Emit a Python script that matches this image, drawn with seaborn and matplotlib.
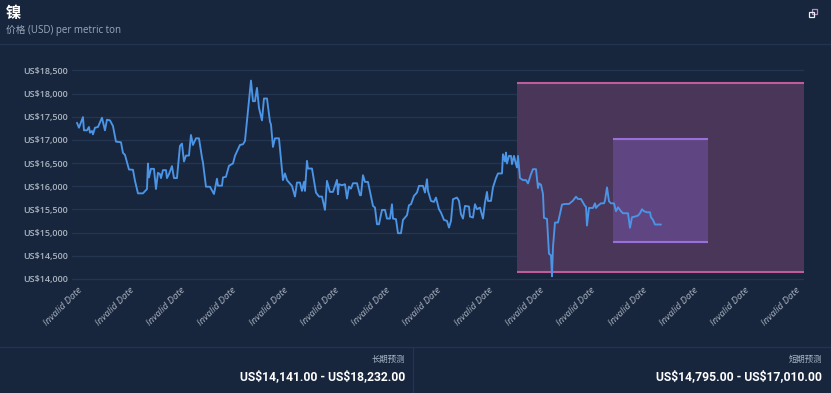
import numpy as np
import pandas as pd
import matplotlib.pyplot as plt
import matplotlib.patches as mpatches
import seaborn as sns

# colours
BG = '#18263d'
GRID = '#233551'
LINE = '#4b94e6'

sns.set_style("dark", rc={'axes.facecolor': BG, 'figure.facecolor': BG})
plt.rcParams['font.family'] = ['Open Sans', 'Noto Sans CJK SC', 'DejaVu Sans']

# price series (x = day offset, y = USD per metric ton)
days = [0, 2, 6, 7, 10, 12, 13, 15, 16, 18,
        21, 25, 28, 30, 33, 36, 39, 44, 46, 48,
        52, 56, 58, 61, 66, 70, 71, 72, 74, 77,
        79, 81, 83, 84, 86, 89, 90, 92, 95, 97,
        100, 103, 105, 107, 109, 112, 114, 116, 119, 122,
        125, 126, 129, 133, 137, 140, 141, 145, 146, 149,
        152, 156, 158, 163, 166, 168, 170, 174, 176, 178,
        180, 182, 185, 187, 190, 193, 194, 196, 198, 202,
        206, 208, 210, 215, 218, 220, 223, 225, 227, 228,
        230, 231, 235, 239, 242, 245, 248, 250, 253, 256,
        260, 261, 262, 265, 268, 270, 272, 274, 276, 280,
        283, 284, 286, 288, 291, 296, 298, 300, 302, 305,
        308, 310, 313, 315, 316, 319, 321, 324, 326, 330,
        332, 334, 337, 340, 342, 346, 348, 350, 351, 354,
        357, 359, 362, 364, 367, 370, 372, 374, 376, 380,
        382, 384, 386, 387, 388, 392, 393, 396, 398, 400,
        403, 406, 408, 410, 411, 414, 416, 419, 421, 425,
        426, 428, 429, 430, 432, 434, 435, 437, 439, 440,
        441, 443, 446, 449, 451, 454, 456, 459, 461, 462,
        464, 466, 467, 470, 472, 474, 475, 476, 478, 481,
        483, 485, 488, 492, 496, 499, 501, 504, 508, 509,
        510, 512, 516, 518, 519, 521, 524, 527, 528, 530,
        532, 534, 537, 539, 541, 544, 546, 549, 551, 553,
        555, 558, 561, 563, 565, 567, 570, 573, 574, 576,
        578, 581, 584]
price = [17370, 17263, 17492, 17206, 17206, 17278, 17156, 17192, 17120, 17263,
         17278, 17478, 17206, 17435, 17421, 17299, 16963, 16949, 16720, 16677,
         16362, 16355, 16119, 15847, 15847, 15940, 16491, 16190, 16376, 16376,
         15940, 16290, 16262, 16176, 16348, 16348, 16176, 16262, 16434, 16176,
         16176, 16870, 16920, 16534, 16662, 16662, 17106, 16891, 17034, 17034,
         16620, 16512, 15990, 15990, 15833, 16162, 16012, 16012, 16190, 16205,
         16441, 16491, 16655, 16891, 16906, 16977, 17406, 18279, 17835, 17835,
         18122, 17692, 17421, 17893, 17893, 17392, 17335, 16848, 17034, 17034,
         16133, 16276, 16133, 16008, 15778, 16080, 16080, 15900, 16094, 15900,
         16547, 16382, 16382, 15864, 15778, 15778, 15490, 16116, 15878, 15878,
         16137, 15828, 16044, 16022, 16044, 15735, 15993, 15950, 16065, 16065,
         15806, 15806, 16238, 16094, 16094, 15576, 15540, 15181, 15181, 15490,
         15490, 15303, 15303, 15612, 15303, 15289, 14987, 14987, 15274, 15375,
         15591, 15612, 15792, 15864, 16008, 16008, 15864, 16152, 15900, 15684,
         15663, 15756, 15504, 15433, 15274, 15253, 15109, 15253, 15720, 15756,
         15684, 15397, 15303, 15433, 15576, 15562, 15346, 15325, 15612, 15504,
         15540, 15303, 15648, 15878, 15684, 15684, 15976, 16176, 16276, 16276,
         16691, 16534, 16727, 16491, 16655, 16655, 16476, 16655, 16476, 16405,
         16655, 16176, 16133, 16133, 16062, 16262, 16369, 16369, 15961, 16062,
         16033, 15833, 15318, 15296, 14545, 14509, 14059, 14689, 15218, 15218,
         15403, 15604, 15618, 15618, 15690, 15775, 15725, 15725, 15575, 15561,
         15153, 15532, 15532, 15632, 15532, 15582, 15632, 15632, 15690, 15976,
         15675, 15632, 15632, 15461, 15546, 15461, 15418, 15418, 15418, 15103,
         15332, 15346, 15368, 15418, 15504, 15461, 15439, 15439, 15332, 15275,
         15175, 15175, 15175]

# forecast bands
long_low, long_high = 14141, 18232
long_start, long_end = 440, 727
short_low, short_high = 14795, 17010
short_start, short_end = 536, 631

yticks = [14000, 14500, 15000, 15500, 16000, 16500, 17000, 17500, 18000, 18500]
n_xticks = 15
xtick_label = 'Invalid Date'

df = pd.DataFrame({'day': days, 'price': price})

fig = plt.figure(figsize=(8.31, 3.93), dpi=100)
ax = fig.add_axes([0.0866, 0.2842, 0.8809, 0.5427])

# forecast rectangles (fill + top/bottom edges)
ax.fill_between([long_start, long_end], long_low, long_high, color='#4a3659', lw=0, zorder=1)
ax.hlines([long_low, long_high], long_start, long_end, color='#bf5d9c', lw=1.5, zorder=2)
ax.fill_between([short_start, short_end], short_low, short_high, color='#5f4682', lw=0, zorder=1.5)
ax.hlines([short_low, short_high], short_start, short_end, color='#9b6fd9', lw=1.5, zorder=2)

sns.lineplot(data=df, x='day', y='price', ax=ax, color=LINE, linewidth=1.35, zorder=3)

ax.set_xlim(-5, 727)
ax.set_ylim(13950, 18550)
ax.set_yticks(yticks)
ax.set_yticklabels([f'US${v:,}' for v in yticks], fontsize=6.5, color='#a9b3c1', fontweight='semibold')
xt = np.linspace(1, 719, n_xticks)
ax.set_xticks(xt)
ax.set_xticklabels([xtick_label] * n_xticks, rotation=45, ha='right', rotation_mode='anchor',
                   fontsize=6.8, color='#a9b3c1', style='italic')
ax.tick_params(axis='both', length=0, pad=3)
ax.grid(axis='y', color=GRID, lw=0.9, zorder=0)
ax.grid(axis='x', visible=False)
ax.set_xlabel('')
ax.set_ylabel('')
for s in ax.spines.values():
    s.set_visible(False)

# header
fig.text(6 / 831, 1 - 14 / 393, '镍', fontsize=11, fontweight='bold', color='white', va='center', ha='left')
fig.text(6 / 831, 1 - 30 / 393, '价格 (USD) per metric ton', fontsize=7, color='#9aaabd', va='center', ha='left')
fig.add_artist(plt.Line2D([0, 1], [1 - 44 / 393] * 2, color='#22354f', lw=1))

# little expand icon
for dx, dy, c in [(3, -3, '#b48fb8'), (0, 0, '#e8f0ff')]:
    fig.add_artist(mpatches.Rectangle(((809 + dx) / 831, 1 - (17 + dy) / 393), 5 / 831, 5 / 393,
                                      fill=False, ec=c, lw=0.9))

# footer
value_font = ['Roboto', 'DejaVu Sans']
fig.add_artist(plt.Line2D([0, 1], [1 - 347 / 393] * 2, color='#22354f', lw=1))
fig.add_artist(plt.Line2D([413 / 831] * 2, [0, 1 - 347 / 393], color='#22354f', lw=1))
fig.text(405 / 831, 1 - 360 / 393, '长期预测', fontsize=6, color='#a9b6c8', ha='right', va='center')
fig.text(405 / 831, 1 - 377 / 393, f'US\\${long_low:,.2f} - US\\${long_high:,.2f}', fontsize=8.7,
         fontweight='bold', color='white', ha='right', va='center', family=value_font)
fig.text(822 / 831, 1 - 360 / 393, '短期预测', fontsize=6, color='#a9b6c8', ha='right', va='center')
fig.text(822 / 831, 1 - 377 / 393, f'US\\${short_low:,.2f} - US\\${short_high:,.2f}', fontsize=8.7,
         fontweight='bold', color='white', ha='right', va='center', family=value_font)

fig.savefig('out.png', dpi=100, facecolor=BG)
